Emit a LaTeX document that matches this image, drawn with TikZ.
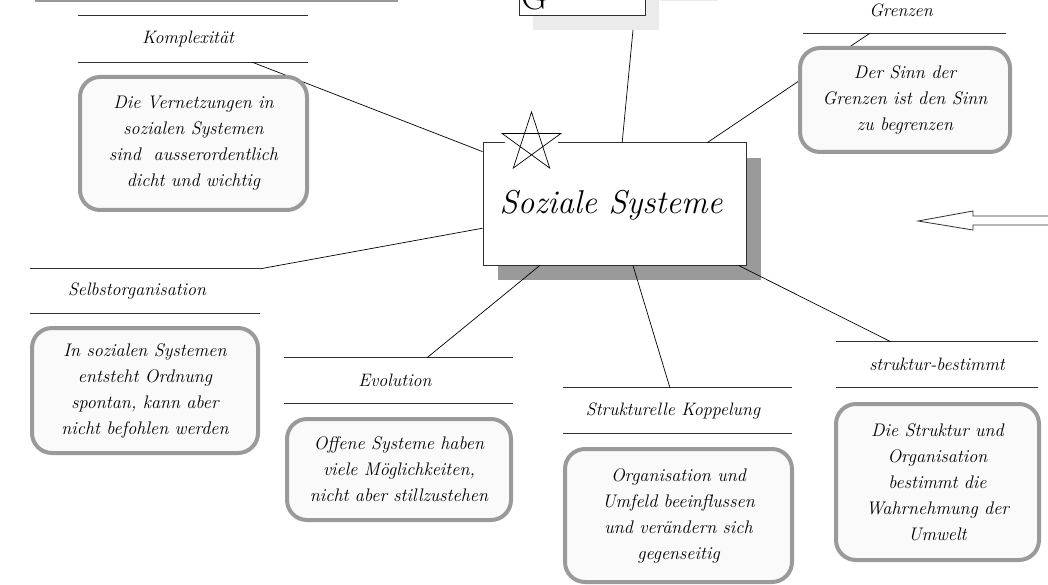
\documentclass[tikz,border=0pt]{standalone}
\usepackage{fontspec}
\usetikzlibrary{calc,shadows}
\definecolor{shadowgray}{HTML}{9A9A9A}
\definecolor{lightshadow}{HTML}{EBEBEB}
\definecolor{notegray}{HTML}{9A9A9A}
\definecolor{notefill}{HTML}{FAFAFA}
\definecolor{rulecol}{HTML}{303030}
\tikzset{
  conn/.style={draw=black, line width=0.7pt},
  labelnode/.style={rectangle, inner sep=0pt, align=center,
     font=\fontsize{18}{22}\selectfont\itshape},
  rulepath/.style={draw=rulecol, line width=1.3pt},
  notebox/.style={rectangle, rounded corners=20pt, draw=notegray, line width=4pt,
     fill=notefill, align=center, inner sep=0pt,
     font=\fontsize{18.2}{26}\selectfont\itshape},
  mainbox/.style={rectangle, draw=rulecol, line width=1pt, fill=white,
     general shadow={fill=shadowgray, shadow xshift=15pt, shadow yshift=-15pt},
     inner sep=0pt},
}
\begin{document}
\begin{tikzpicture}[x=1pt,y=-1pt]
\useasboundingbox (0,0) rectangle (1048,585);
\clip (0,0) rectangle (1048,585);

% top cut-off elements
\fill[notegray] (35,0) rectangle (398,2.5);
\fill[lightshadow] (660,0) rectangle (718,1.5);
\node[rectangle, draw=rulecol, line width=0.8pt, fill=white,
      minimum width=126pt, minimum height=75pt, inner sep=0pt,
      general shadow={fill=lightshadow, shadow xshift=14pt, shadow yshift=-15pt}]
      (gbox) at (582,-22.5) {};
\node[anchor=base west, inner sep=0pt, font=\fontsize{36}{40}\selectfont] (gletter) at (521,9.5) {G};
\coordinate (gend) at (633,30);

% central box
\node[mainbox, minimum width=263pt, minimum height=122pt] (main) at (614.5,204) {};
\node[inner sep=0pt, font=\fontsize{33}{36}\selectfont\itshape] (maintext) at (611,205) {Soziale Systeme};
% star
\path
  (531.5,143) ++(90:-31) coordinate (s0)
  (531.5,143) ++(-90+144:31) coordinate (s1)
  (531.5,143) ++(-90+288:31) coordinate (s2)
  (531.5,143) ++(-90+72:31) coordinate (s3)
  (531.5,143) ++(-90+216:31) coordinate (s4);
\fill[white] (s0) -- (s3) -- (s1) -- (s4) -- (s2) -- cycle;
\draw[line width=0.7pt] (s0) -- (s1) -- (s2) -- (s3) -- (s4) -- cycle;

% label nodes
\node[labelnode, minimum width=230pt, minimum height=46pt] (komp) at (193,39) {\hspace*{-10pt}Komplexit\"at};
\node[labelnode, minimum width=230pt, minimum height=44pt] (selbst) at (145,291) {\hspace*{-16pt}Selbstorganisation};
\node[labelnode, minimum width=229pt, minimum height=45pt] (evol) at (398.5,380.5) {\hspace*{-7pt}Evolution};
\node[labelnode, minimum width=229pt, minimum height=45pt] (kopp) at (677.5,410.5) {\hspace*{-9pt}Strukturelle Koppelung};
\node[labelnode, minimum width=202pt, minimum height=45pt] (best) at (937,364.5) {struktur-bestimmt};
\node[labelnode, minimum width=203pt, minimum height=45pt] (grenz) at (904.5,10.5) {\hspace*{-7pt}Grenzen};
\foreach \n in {komp,selbst,evol,kopp,best,grenz}{
  \draw[rulepath] (\n.north west) -- (\n.north east);
  \draw[rulepath] (\n.south west) -- (\n.south east);
}

% connectors
\draw[conn] ($(main.north west)!0.074!(main.south west)$) -- ($(komp.south west)!0.757!(komp.south east)$);
\draw[conn] ($(main.north west)!0.697!(main.south west)$) -- (selbst.north east);
\draw[conn] ($(main.north west)!0.529!(main.north east)$) -- (gend);
\draw[conn] ($(main.north west)!0.852!(main.north east)$) -- ($(grenz.south west)!0.33!(grenz.south east)$);
\draw[conn] ($(main.south west)!0.217!(main.south east)$) -- ($(evol.north west)!0.624!(evol.north east)$);
\draw[conn] ($(main.south west)!0.570!(main.south east)$) -- ($(kopp.north west)!0.467!(kopp.north east)$);
\draw[conn] ($(main.south west)!0.970!(main.south east)$) -- ($(best.north west)!0.272!(best.north east)$);

% note boxes
\node[notebox, minimum width=227pt, minimum height=133pt] (kompnote) at (193.5,143.5)
  {Die Vernetzungen in\\sozialen Systemen\\sind~ ausserordentlich\\dicht und wichtig};
\node[notebox, minimum width=210pt, minimum height=104pt] (grenznote) at (905,100)
  {Der Sinn der\\Grenzen ist den Sinn\\zu begrenzen};
\node[notebox, minimum width=226pt, minimum height=125pt] (selbstnote) at (145,390.5)
  {In sozialen Systemen\\entsteht Ordnung\\spontan, kann aber\\nicht befohlen werden};
\node[notebox, minimum width=224pt, minimum height=101pt] (evolnote) at (399,469.5)
  {Offene Systeme haben\\viele M\"oglichkeiten,\\nicht aber stillzustehen};
\node[notebox, minimum width=227pt, minimum height=133pt] (koppnote) at (678.5,515.5)
  {Organisation und\\Umfeld beeinflussen\\und ver\"andern sich\\gegenseitig};
\node[notebox, minimum width=203pt, minimum height=156pt] (bestnote) at (937.5,482)
  {Die Struktur und\\Organisation\\bestimmt die\\Wahrnehmung der\\Umwelt};

% hollow arrow on the right
\draw[line width=0.8pt, draw=rulecol] (1050,216) -- (973,216) -- (973,211) -- (918,221)
  -- (973,230) -- (973,225) -- (1050,225);
\end{tikzpicture}
\end{document}
